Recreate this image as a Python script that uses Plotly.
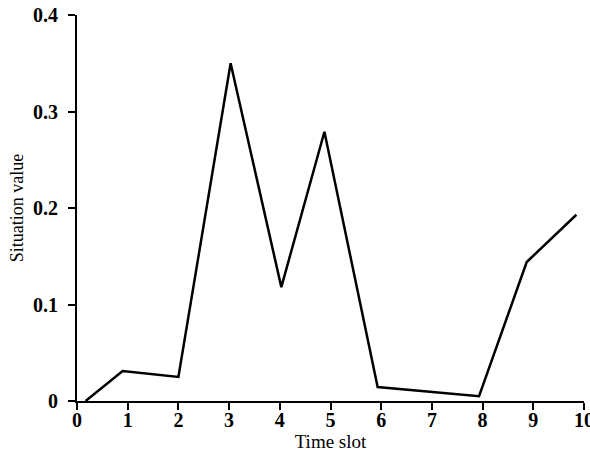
import plotly.graph_objects as go

time_slot = [0.17, 0.9, 2.0, 3.03, 4.03, 4.88, 5.93, 7.93, 8.87, 9.85]
situation_value = [0.0, 0.031, 0.025, 0.350, 0.118, 0.279, 0.0145, 0.005, 0.144, 0.193]
x_ticks = list(range(0, 11))
y_ticks = [0, 0.1, 0.2, 0.3, 0.4]
y_tick_labels = ["0", "0.1", "0.2", "0.3", "0.4"]

fig = go.Figure(go.Scatter(x=time_slot, y=situation_value, mode="lines",
                           line=dict(color="black", width=2.5), showlegend=False))

font = "Liberation Serif, Times New Roman, serif"
fig.update_layout(
    width=590, height=452,
    margin=dict(l=77, r=6, t=15, b=51),
    plot_bgcolor="white", paper_bgcolor="white",
    font=dict(family=font, color="black"),
)
fig.update_xaxes(range=[0, 10], tickvals=x_ticks, ticktext=[f"<b>{t}</b>" for t in x_ticks],
                 automargin=False, ticklabelstandoff=-7, ticklabeloverflow="allow",
                 showgrid=False, zeroline=False, showline=True, linecolor="black", linewidth=2,
                 ticks="outside", ticklen=7, tickwidth=2, tickcolor="black",
                 tickfont=dict(size=20, family=font, color="black"),
                 title=dict(text="Time slot", font=dict(size=19, family=font, color="black"), standoff=2))
fig.update_yaxes(range=[0, 0.4], tickvals=y_ticks, ticktext=[f"<b>{t}</b>" for t in y_tick_labels],
                 automargin=False, ticklabelstandoff=6, ticklabeloverflow="allow",
                 showgrid=False, zeroline=False, showline=True, linecolor="black", linewidth=2,
                 ticks="outside", ticklen=7, tickwidth=2, tickcolor="black",
                 tickfont=dict(size=20, family=font, color="black"),
                 title=dict(text="Situation value", font=dict(size=18, family=font, color="black"), standoff=5))

fig.write_html("out.html", config={"displayModeBar": False},
               post_script="document.body.style.margin='0';document.body.style.overflow='hidden';")
